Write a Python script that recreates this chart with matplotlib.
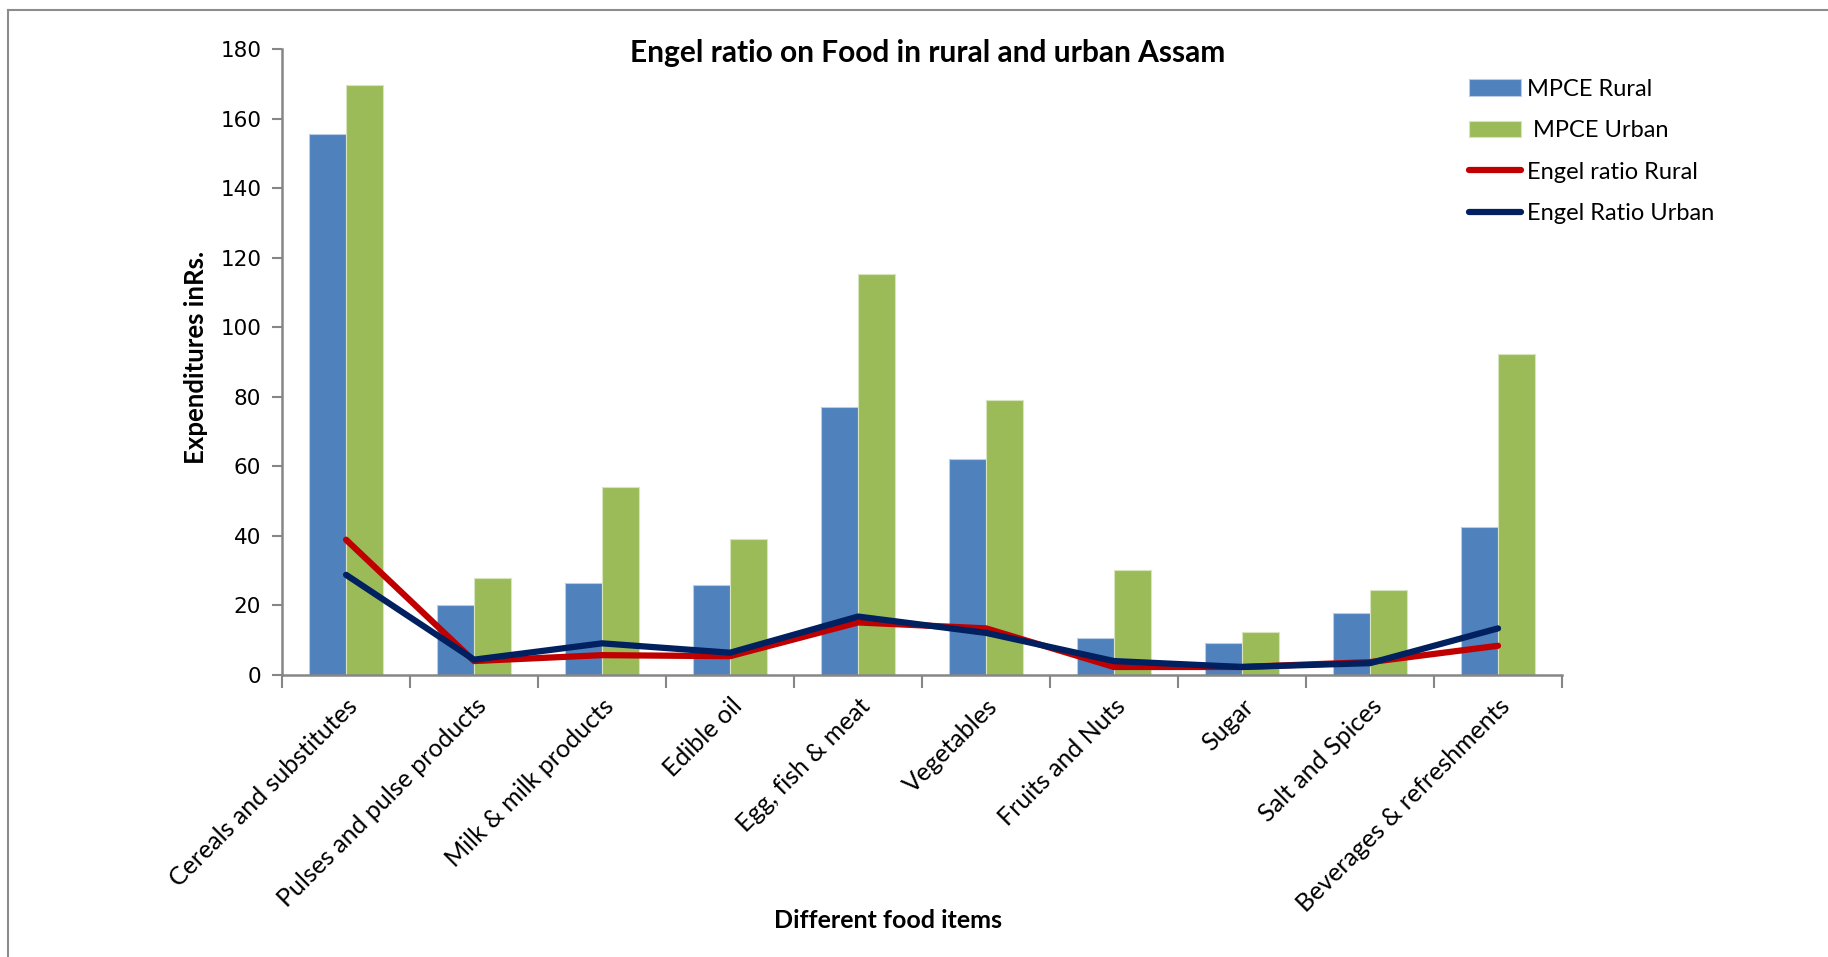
import numpy as np
import matplotlib
matplotlib.use("Agg")
import matplotlib.pyplot as plt
from matplotlib.lines import Line2D

# Data
categories = [
    "Cereals and substitutes", "Pulses and pulse products", "Milk & milk products",
    "Edible oil", "Egg, fish & meat", "Vegetables", "Fruits and Nuts",
    "Sugar", "Salt and Spices", "Beverages & refreshments",
]
mpce_rural = [155.5, 20.1, 26.5, 25.8, 77.1, 62.0, 10.7, 9.1, 17.8, 42.6]
mpce_urban = [169.6, 27.8, 54.0, 39.2, 115.3, 79.1, 30.2, 12.4, 24.5, 92.2]
engel_rural = [38.9, 4.0, 5.7, 5.4, 15.1, 13.4, 2.3, 2.3, 3.7, 8.4]
engel_urban = [28.8, 4.4, 9.1, 6.4, 16.8, 12.1, 4.0, 2.3, 3.4, 13.4]
yticks = [0, 20, 40, 60, 80, 100, 120, 140, 160, 180]

label_font = "Lato"
axis_grey = "#868686"

fig = plt.figure(figsize=(18.28, 9.57), dpi=100)
ax = fig.add_axes([0.1543, 0.2947, 0.7002, 0.6541])

x = np.arange(len(categories))
w = 0.29
b1 = ax.bar(x - w / 2, mpce_rural, width=w, color="#4F81BD", edgecolor="#B9CDE5",
            linewidth=0.8, label="MPCE Rural", zorder=2)
b2 = ax.bar(x + w / 2, mpce_urban, width=w, color="#9BBB59", edgecolor="#D7E4BD",
            linewidth=0.8, label=" MPCE Urban", zorder=2)
l1, = ax.plot(x, engel_rural, color="#C00000", lw=4.5, solid_capstyle="round",
              solid_joinstyle="round", label="Engel ratio Rural", zorder=3)
l2, = ax.plot(x, engel_urban, color="#002060", lw=4.5, solid_capstyle="round",
              solid_joinstyle="round", label="Engel Ratio Urban", zorder=4)

ax.set_xlim(-0.5, len(categories) - 0.5)
ax.set_ylim(0, 180)

# y axis
ax.set_yticks(yticks)
ax.set_yticklabels([str(v) for v in yticks], fontsize=15.5, family="DejaVu Sans")
ax.tick_params(axis="y", direction="out", length=7, width=1.5, color=axis_grey, pad=8)

# x axis: tick marks between categories, labels at centres
ax.set_xticks(np.arange(-0.5, len(categories), 1.0))
ax.set_xticklabels([])
ax.tick_params(axis="x", which="major", direction="out", length=9, width=1.5, color=axis_grey)
ax.set_xticks(x, minor=True)
ax.set_xticklabels(categories, minor=True, rotation=45, ha="right",
                   rotation_mode="anchor", fontsize=18, family=label_font)
ax.tick_params(axis="x", which="minor", length=0, pad=14)

for s in ["top", "right"]:
    ax.spines[s].set_visible(False)
for s in ["left", "bottom"]:
    ax.spines[s].set_color(axis_grey)
    ax.spines[s].set_linewidth(1.8)

fig.text(0.5077, 0.945, "Engel ratio on Food in rural and urban Assam",
         ha="center", va="center", fontsize=21.5, fontweight="bold", family=label_font)
fig.text(0.4857, 0.038, "Different food items", ha="center", va="center",
         fontsize=18, fontweight="bold", family=label_font)
fig.text(0.107, 0.627, "Expenditures inRs.", ha="center", va="center", rotation=90,
         fontsize=18.5, fontweight="bold", family=label_font)

fig.legend([b1, b2, l1, l2], [b1.get_label(), b2.get_label(), l1.get_label(), l2.get_label()],
           loc="upper left", bbox_to_anchor=(0.792, 0.94), frameon=False,
           prop={"family": label_font, "size": 17}, handlelength=2.2,
           handleheight=0.7, handletextpad=0.25, labelspacing=0.87)

# thin grey frame (left and top edges visible in the original)
fig.add_artist(Line2D([0.0044, 0.0044], [0.0, 0.9896], transform=fig.transFigure,
                      color="#8c8c8c", lw=1.5))
fig.add_artist(Line2D([0.0044, 1.0], [0.9896, 0.9896], transform=fig.transFigure,
                      color="#8c8c8c", lw=1.5))

fig.savefig("out.png", dpi=100, facecolor="white")
